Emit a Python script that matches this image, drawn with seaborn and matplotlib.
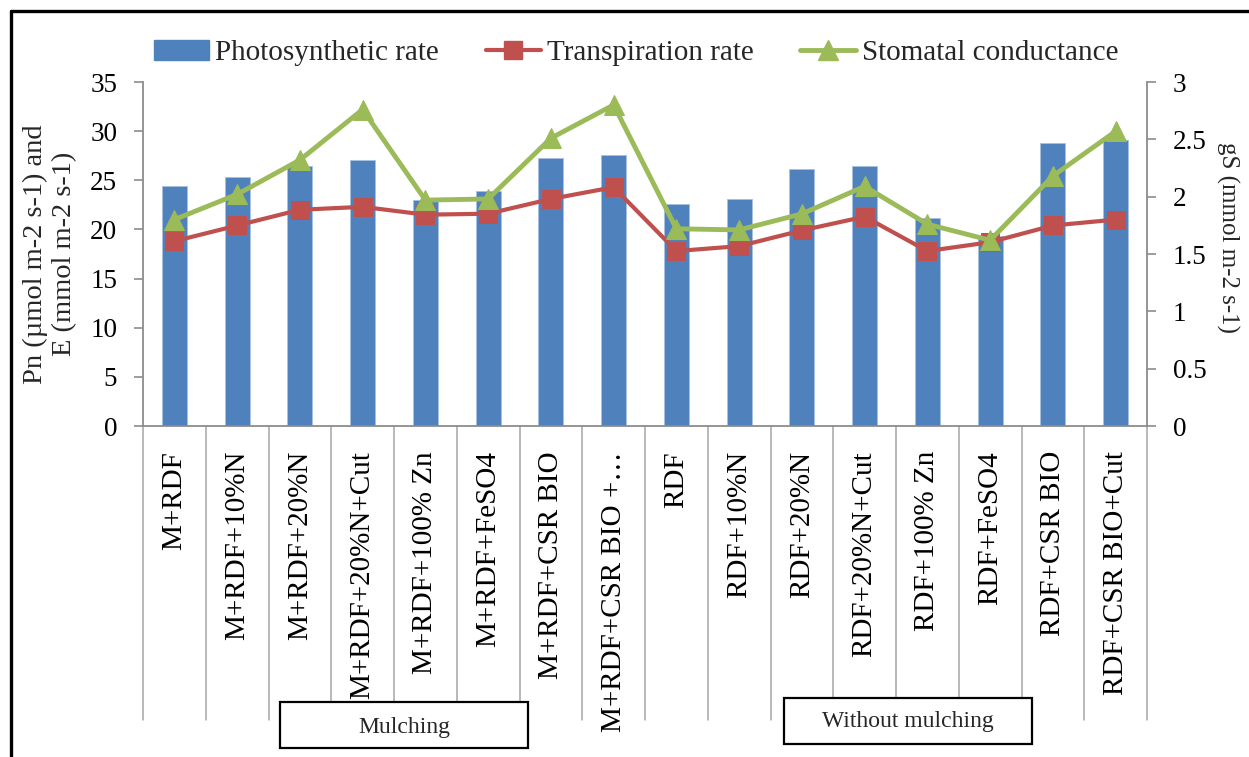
import numpy as np
import pandas as pd
import matplotlib
matplotlib.use("Agg")
import matplotlib.pyplot as plt
import matplotlib.transforms as mtransforms
from matplotlib.patches import Rectangle, Patch
from matplotlib.lines import Line2D
from matplotlib.ticker import FuncFormatter, MultipleLocator
import seaborn as sns

# ---------------- data ----------------
categories = ["M+RDF", "M+RDF+10%N", "M+RDF+20%N", "M+RDF+20%N+Cut",
              "M+RDF+100% Zn", "M+RDF+FeSO4", "M+RDF+CSR BIO", "M+RDF+CSR BIO +\u2026",
              "RDF", "RDF+10%N", "RDF+20%N", "RDF+20%N+Cut",
              "RDF+100% Zn", "RDF+FeSO4", "RDF+CSR BIO", "RDF+CSR BIO+Cut"]
photosynthetic = [24.4, 25.3, 26.5, 27.1, 23.0, 23.9, 27.3, 27.6,
                  22.6, 23.1, 26.1, 26.5, 21.2, 19.3, 28.8, 29.1]
transpiration = [18.8, 20.4, 22.0, 22.3, 21.5, 21.6, 23.1, 24.3,
                 17.8, 18.3, 19.9, 21.3, 17.8, 18.7, 20.4, 21.0]
stomatal = [1.80, 2.02, 2.32, 2.76, 1.97, 1.98, 2.51, 2.80,
            1.72, 1.71, 1.85, 2.09, 1.76, 1.62, 2.18, 2.57]
series_names = ["Photosynthetic rate", "Transpiration rate", "Stomatal conductance"]
group_names = ["Mulching", "Without mulching"]
left_label = "Pn (\u00b5mol m-2 s-1) and\nE (mmol m-2 s-1)"
right_label = "gS (mmol m-2 s-1)"

df = pd.DataFrame({"cat": categories, "pn": photosynthetic,
                   "e": transpiration, "gs": stomatal})
df["pos"] = np.arange(len(df))

# ---------------- style ----------------
sns.set_theme(style="white")
plt.rcParams["font.family"] = ["Liberation Serif", "DejaVu Serif"]

BLUE = "#4F81BD"
RED = "#C0504D"
GREEN = "#9BBB59"
GRAY = "#8C8C8C"

W, H = 1249, 757
fig = plt.figure(figsize=(W / 100, H / 100), dpi=100)
fig.patch.set_facecolor("white")

ax_l, ax_r, ax_t, ax_b = 143, 1147, 82, 426
ax = fig.add_axes([ax_l / W, 1 - ax_b / H, (ax_r - ax_l) / W, (ax_b - ax_t) / H])

sns.barplot(data=df, x="cat", y="pn", order=categories, color=BLUE,
            saturation=1, width=0.4, ax=ax, edgecolor="#A9C1E0", linewidth=0.6,
            zorder=2)
sns.lineplot(data=df, x="pos", y="e", ax=ax, color=RED, linewidth=3,
             marker="s", markersize=13, markeredgecolor=RED, zorder=4,
             legend=False)

ax.set_xlim(-0.5, len(categories) - 0.5)
ax.set_ylim(0, 35)
ax.yaxis.set_major_locator(MultipleLocator(5))
ax.set_xticks(np.arange(len(categories)))
ax.set_xticklabels(categories, rotation=90, fontsize=21)
ax.set_xlabel("")
ax.set_ylabel("")
ax.tick_params(axis="x", length=0, pad=18, colors="black")
ax.tick_params(axis="y", direction="out", length=6.5, width=1.2, color=GRAY,
               pad=12, labelsize=19.5, labelcolor="black", left=True)
for s in ["top", "right"]:
    ax.spines[s].set_visible(False)
for s in ["left", "bottom"]:
    ax.spines[s].set_color(GRAY)
    ax.spines[s].set_linewidth(1.3)

ax2 = ax.twinx()
sns.lineplot(data=df, x="pos", y="gs", ax=ax2, color=GREEN, linewidth=3.5,
             marker="^", markersize=15, markeredgecolor=GREEN, zorder=5,
             legend=False)
ax2.set_ylim(0, 3)
ax2.yaxis.set_major_locator(MultipleLocator(0.5))
ax2.yaxis.set_major_formatter(FuncFormatter(lambda v, p: f"{v:g}"))
ax2.set_ylabel("")
ax2.tick_params(axis="y", direction="out", length=6.5, width=1.2, color=GRAY,
                pad=12, labelsize=19.5, labelcolor="black", right=True)
for s in ["top", "left", "bottom"]:
    ax2.spines[s].set_visible(False)
ax2.spines["right"].set_color(GRAY)
ax2.spines["right"].set_linewidth(1.3)

# category separators below the axis
trans = mtransforms.blended_transform_factory(ax.transData, ax.transAxes)
sep_bottom = (ax_b - 720) / (ax_b - ax_t)
for k in range(len(categories) + 1):
    ax.plot([k - 0.5, k - 0.5], [0, sep_bottom], transform=trans,
            color="#A6A6A6", lw=1.1, clip_on=False, zorder=1)

# axis titles
fig.text(50 / W, 1 - 254 / H, left_label, rotation=90, ha="center", va="center",
         fontsize=20.5, linespacing=1.2)
fig.text(1228 / W, 1 - 237 / H, right_label, rotation=270, ha="center",
         va="center", fontsize=18)

# legend
handles = [Patch(facecolor=BLUE, edgecolor=BLUE),
           Line2D([], [], color=RED, lw=3, marker="s", markersize=13),
           Line2D([], [], color=GREEN, lw=3.5, marker="^", markersize=14)]
fig.legend(handles, series_names, ncol=3, loc="center left",
           bbox_to_anchor=(154 / W, 1 - 53 / H), frameon=False, fontsize=21,
           handlelength=1.9, handletextpad=0.2, columnspacing=1.6,
           borderaxespad=0, borderpad=0)

# group boxes
boxes = [(280, 702, 528, 748, 404, 727), (784, 698, 1032, 744, 908, 722)]
for (x0, y0, x1, y1, tx, ty), name in zip(boxes, group_names):
    fig.add_artist(Rectangle((x0 / W, 1 - y1 / H), (x1 - x0) / W, (y1 - y0) / H,
                             transform=fig.transFigure, facecolor="white",
                             edgecolor="black", lw=1.6, zorder=3))
    fig.text(tx / W, 1 - ty / H, name, ha="center", va="center", fontsize=17,
             zorder=4)

# outer frame (top and left edges visible)
fig.add_artist(Line2D([11 / W, 1.0], [1 - 11 / H, 1 - 11 / H],
                      transform=fig.transFigure, color="black", lw=2.4))
fig.add_artist(Line2D([11 / W, 11 / W], [1 - 11 / H, 0.0],
                      transform=fig.transFigure, color="black", lw=2.4))

fig.savefig("out.png", dpi=100, facecolor="white")
